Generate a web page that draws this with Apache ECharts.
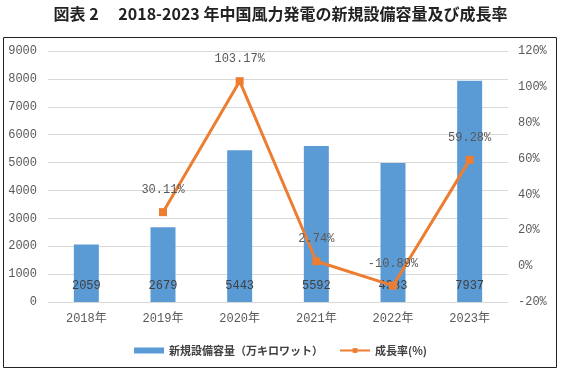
<!DOCTYPE html>
<html>
<head>
<meta charset="utf-8">
<script src="https://cdn.jsdelivr.net/npm/echarts@6/dist/echarts.min.js"></script>
<style>
  html, body { margin: 0; padding: 0; background: #fff; }
  #main { width: 561px; height: 375px; }
</style>
</head>
<body>
<div id="main"></div>
<script>
const years = ['2018年', '2019年', '2020年', '2021年', '2022年', '2023年'];
const newCapacity = [2059, 2679, 5443, 5592, 4983, 7937];
const growthRate = [null, 30.11, 103.17, 2.74, -10.89, 59.28];

const numFont = '"Liberation Mono", "Noto Sans CJK JP", monospace';
const cjkFont = '"Noto Sans CJK JP", sans-serif';

const chart = echarts.init(document.getElementById('main'));

const option = {
  animation: false,
  title: {
    text: '図表 2　 2018-2023 年中国風力発電の新規設備容量及び成長率',
    left: 'center',
    top: 1,
    textStyle: { fontFamily: cjkFont, fontSize: 16, fontWeight: 'bold', color: '#222' }
  },
  graphic: [{
    type: 'rect',
    shape: { x: 3.5, y: 37.5, width: 553, height: 330 },
    style: { fill: 'none', stroke: '#222', lineWidth: 1 },
    silent: true
  }],
  grid: { left: 48, right: 53, top: 51, bottom: 73 },
  legend: {
    bottom: 14,
    left: 'center',
    itemGap: 16,
    itemWidth: 30,
    itemHeight: 6,
    textStyle: { fontFamily: cjkFont, fontSize: 11, color: '#404040', fontWeight: 'bold' },
    data: [
      { name: '新規設備容量（万キロワット）', icon: 'rect' },
      { name: '成長率(%)' }
    ]
  },
  xAxis: {
    type: 'category',
    data: years,
    axisLine: { lineStyle: { color: '#d9d9d9' } },
    axisTick: { show: false },
    axisLabel: { fontFamily: numFont, fontSize: 12, color: '#595959', margin: 11 }
  },
  yAxis: [{
    type: 'value',
    min: 0,
    max: 9000,
    interval: 1000,
    axisLine: { show: false },
    axisTick: { show: false },
    splitLine: { lineStyle: { color: '#d9d9d9' } },
    axisLabel: { fontFamily: numFont, fontSize: 12, color: '#595959', margin: 11, formatter: v => String(v) }
  }, {
    type: 'value',
    min: -20,
    max: 120,
    interval: 20,
    axisLine: { show: false },
    axisTick: { show: false },
    splitLine: { show: false },
    axisLabel: { fontFamily: numFont, fontSize: 12, color: '#595959', margin: 10, formatter: '{value}%' }
  }],
  series: [{
    name: '新規設備容量（万キロワット）',
    type: 'bar',
    data: newCapacity,
    barWidth: 25,
    itemStyle: { color: '#5B9BD5' },
    label: {
      show: true,
      position: 'insideBottom',
      distance: 10,
      fontFamily: numFont,
      fontSize: 12,
      color: '#404040'
    }
  }, {
    name: '成長率(%)',
    type: 'line',
    yAxisIndex: 1,
    data: growthRate,
    connectNulls: false,
    symbol: 'rect',
    symbolSize: 8,
    lineStyle: { color: '#ED7D31', width: 3 },
    itemStyle: { color: '#ED7D31' },
    label: {
      show: true,
      position: 'top',
      distance: 12,
      fontFamily: numFont,
      fontSize: 12,
      color: '#595959',
      formatter: p => p.value.toFixed(2) + '%'
    }
  }]
};

chart.setOption(option);
</script>
</body>
</html>
